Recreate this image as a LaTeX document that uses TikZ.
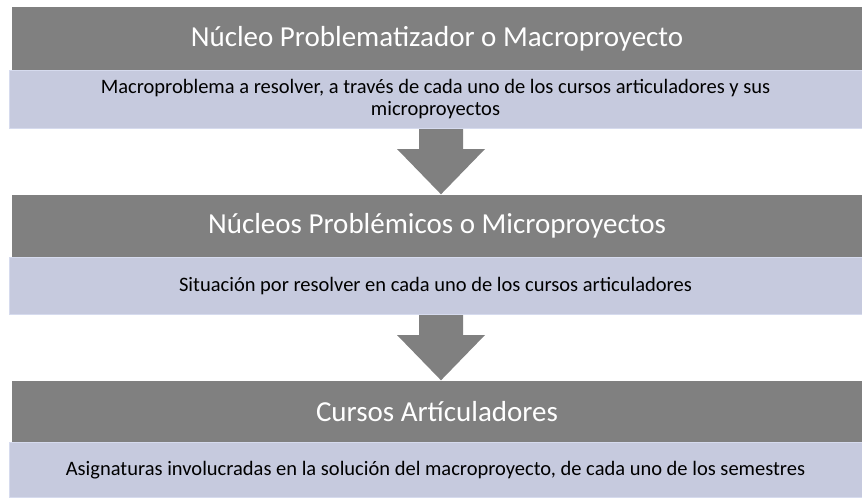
\documentclass[tikz,border=0pt]{standalone}
\usepackage{fontspec}
\setmainfont{Carlito}
\usepackage{tikz}
\usetikzlibrary{calc}

\definecolor{bargray}{RGB}{128,128,128}
\definecolor{bodyblue}{RGB}{198,202,222}
\definecolor{bodyline}{RGB}{214,219,238}

\newcommand{\blockarrow}[2]{%
	\fill[bargray] ($(#1)+(-22pt,0)$) -- ($(#1)+(22pt,0)$) -- ($(#1)+(22pt,-20pt)$)
		-- ($(#1)+(44pt,-20pt)$) -- (#2) -- ($(#1)+(-44pt,-20pt)$)
		-- ($(#1)+(-22pt,-20pt)$) -- cycle;}

\begin{document}
\begin{tikzpicture}[x=1pt,y=-1pt,
		titlebar/.style={fill=bargray,text=white,font=\fontsize{29}{34}\selectfont,
			minimum width=850pt,minimum height=64pt,inner sep=0pt},
		bodybar/.style={fill=bodyblue,draw=bodyline,line width=1pt,font=\fontsize{20.5}{22}\selectfont,
			minimum width=853pt,inner sep=0pt,align=center}]
		\useasboundingbox (0,0) rectangle (862,498);
		
		\node[titlebar] (t1) at (437,38.5) {Núcleo Problematizador o Macroproyecto};
		\node[bodybar,minimum height=58pt] (b1) at (435.5,99.5) {Macroproblema a resolver, a través de cada uno de los cursos articuladores y sus\\microproyectos};
		
		\node[titlebar,minimum height=63pt] (t2) at (437,226) {Núcleos Problémicos o Microproyectos};
		\node[bodybar,minimum height=57pt] (b2) at (435.5,286) {Situación por resolver en cada uno de los cursos articuladores};
		
		\node[titlebar,minimum height=62pt] (t3) at (437,411.5) {Cursos Artículadores};
		\node[bodybar,minimum height=55pt] (b3) at (435.5,470) {Asignaturas involucradas en la solución del macroproyecto, de cada uno de los semestres};
		
		\coordinate (col) at (441,0);
		\blockarrow{b1.south -| col}{t2.north -| col}
		\blockarrow{b2.south -| col}{t3.north -| col}
	\end{tikzpicture}
\end{document}
